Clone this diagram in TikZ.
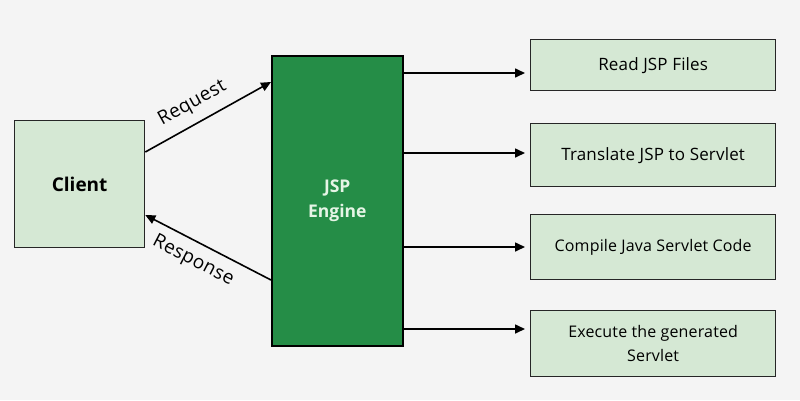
\documentclass[tikz,border=0pt]{standalone}
\usepackage{fontspec}
\setmainfont{Open Sans}
\usetikzlibrary{arrows.meta}
\definecolor{bg}{HTML}{F4F4F4}
\definecolor{lg}{HTML}{D5E8D4}
\definecolor{dg}{HTML}{258D47}
\definecolor{tx}{HTML}{E6F5E6}
\begin{document}
\begin{tikzpicture}[x=1pt,y=-1pt,
  box/.style={draw=black!85,line width=1.3pt,fill=lg,anchor=north west,inner sep=0pt,align=center,font=\fontsize{16}{24}\selectfont\addfontfeature{LetterSpace=1}},
  lbl/.style={font=\fontsize{19}{22}\selectfont\addfontfeature{LetterSpace=2}},
  arr/.style={-{Triangle[length=10pt,width=9pt]},line width=1.6pt}]
\fill[bg] (0,0) rectangle (800,400);
\useasboundingbox (0,0) rectangle (800,400);
\node[box,minimum width=130pt,minimum height=127pt,font=\fontsize{19}{22}\selectfont\bfseries] (c) at (14,120) {Client};
\node[draw=black,line width=1.5pt,fill=dg,anchor=north west,minimum width=131pt,minimum height=290pt,text=tx,align=center,font=\fontsize{17.5}{25}\selectfont\bfseries] (e) at (271,55) {JSP\\Engine};
\node[box,minimum width=245pt,minimum height=51pt] (r1) at (530,39) {\fontsize{17}{24}\selectfont Read JSP Files};
\node[box,minimum width=245pt,minimum height=63pt] (r2) at (530,123) {\fontsize{17}{24}\selectfont Translate JSP to Servlet};
\node[box,minimum width=245pt,minimum height=65pt] (r3) at (530,214) {Compile Java Servlet Code};
\node[box,minimum width=245pt,minimum height=66pt] (r4) at (530,310) {Execute the generated\\Servlet};
\coordinate (a1) at (c.north east |- 0,152);
\coordinate (b1) at (e.north west |- 0,82);
\draw[arr] (a1) -- (b1) node[pos=0.45,sloped,above=6pt,lbl] {Request};
\coordinate (a2) at (e.north west |- 0,280);
\coordinate (b2) at (c.north east |- 0,215);
\draw[arr] (a2) -- (b2) node[pos=0.55,sloped,below=6pt,lbl] {Response};
\foreach \i/\y in {1/73,2/153,3/247,4/329}{
  \coordinate (s\i) at (e.north east |- 0,\y);
  \coordinate (t\i) at (r\i.north west |- 0,\y);
  \draw[arr] (s\i) -- ([xshift=-5pt]t\i);
}
\end{tikzpicture}
\end{document}
